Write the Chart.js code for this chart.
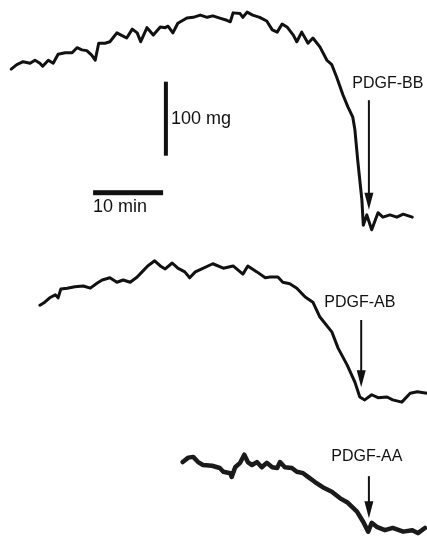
<!DOCTYPE html>
<html>
<head>
<meta charset="utf-8">
<script src="https://cdn.jsdelivr.net/npm/chart.js@4/dist/chart.umd.min.js"></script>
<style>
  html, body { margin: 0; padding: 0; background: #fff; }
  #wrap { width: 427px; height: 542px; }
</style>
</head>
<body>
<div id="wrap"><canvas id="traceChart" width="427" height="542"></canvas></div>
<script>
// Isometric tension traces, time in min, tension in mg (traces stacked with offsets)
const bbTime = [1.6, 2.4, 3.3, 4.3, 5.0, 5.7, 6.1, 6.9, 7.6, 8.3, 9.3, 10.3, 11.0, 11.7, 12.4, 13.1, 13.6, 14.1, 15.0, 15.7,
  16.7, 17.3, 18.1, 18.9, 19.6, 20.1, 21.0, 21.9, 22.9, 23.6, 24.0, 24.7, 25.4, 26.7, 27.6, 28.6, 29.6, 30.4, 31.4, 32.4,
  32.9, 33.3, 34.3, 34.7, 35.3, 36.1, 37.1, 38.1, 38.9, 39.6, 40.3, 41.0, 41.9, 42.4, 43.1, 44.0, 44.7, 45.7, 46.7, 47.4,
  48.1, 49.0, 49.7, 50.4, 50.7, 51.1, 51.7, 51.9, 52.4, 53.1, 54.0, 54.7, 55.7, 56.7, 57.6, 58.9];
const bbTension = [639, 645, 649, 647, 651, 647, 643, 651, 647, 659, 661, 661, 668, 665, 664, 658, 651, 674, 674, 676,
  688, 685, 681, 693, 688, 676, 695, 685, 696, 695, 697, 688, 701, 708, 709, 712, 709, 711, 708, 705,
  703, 715, 714, 709, 716, 712, 709, 704, 692, 689, 700, 696, 685, 676, 689, 674, 681, 669, 651, 645,
  628, 604, 588, 574, 557, 516, 462, 428, 442, 422, 445, 439, 442, 439, 443, 439];

const abTime = [5.7, 6.4, 7.1, 7.9, 8.3, 8.7, 9.6, 10.7, 11.9, 12.9, 13.9, 14.6, 15.7, 16.7, 17.6, 18.6, 19.6, 20.3, 21.1, 22.1,
  22.9, 23.6, 24.6, 25.4, 26.4, 27.1, 27.9, 28.6, 30.4, 31.9, 33.3, 34.7, 35.4, 36.7, 37.9, 38.6, 39.7, 40.4, 41.4, 42.4,
  43.6, 44.7, 45.7, 47.4, 48.3, 49.6, 50.7, 51.4, 52.1, 53.1, 54.0, 55.3, 56.1, 57.4, 58.6, 59.6, 61.0];
const abTension = [320, 324, 330, 334, 330, 342, 343, 345, 346, 343, 350, 354, 357, 351, 354, 351, 358, 365, 373, 380,
  373, 369, 377, 370, 365, 357, 365, 368, 376, 370, 373, 362, 373, 365, 357, 358, 358, 351, 349, 343,
  331, 324, 304, 284, 262, 239, 216, 196, 192, 199, 195, 196, 192, 189, 201, 203, 201];

const aaTime = [26.1, 26.9, 27.6, 28.3, 29.0, 30.3, 31.4, 31.9, 32.9, 33.1, 33.6, 34.3, 34.9, 35.4, 36.0, 36.7, 37.4, 38.1, 38.9, 39.6,
  40.0, 40.7, 41.7, 42.4, 43.3, 44.0, 45.0, 46.1, 47.4, 48.6, 49.7, 51.0, 51.9, 52.6, 53.1, 53.9, 55.0, 56.1, 57.6, 58.9,
  59.7, 60.7];
const aaTension = [108, 114, 115, 108, 104, 103, 100, 95, 93, 88, 101, 107, 118, 108, 104, 108, 101, 107, 101, 100,
  108, 101, 100, 95, 93, 88, 81, 74, 68, 59, 53, 41, 27, 14, 26, 20, 16, 19, 14, 16,
  12, 19];

// Agonist additions: label, time, arrow start / tip tension, label position
const agonists = ['PDGF-BB', 'PDGF-AB', 'PDGF-AA'];
const agonistTime = [52.7, 51.6, 52.7];
const arrowFrom = [597, 300, 89];
const arrowTo = [449, 209, 32];
const labelTime = [55.4, 51.4, 52.4];
const labelTension = [620, 324, 116];

// Calibration bars
const calTension = [522, 622];   // 100 mg
const calTensionTime = 23.7;
const calTime = [13.3, 23.3];    // 10 min
const calTimeTension = 472;

function pts(xs, ys) {
  return xs.map((x, i) => ({x: x, y: ys[i]}));
}

const overlay = {
  id: 'overlay',
  afterDatasetsDraw(chart) {
    const c = chart.ctx;
    const sx = chart.scales.x, sy = chart.scales.y;
    c.save();
    c.fillStyle = '#111';
    c.strokeStyle = '#111';

    // arrows + labels
    c.font = '16px "Liberation Sans", Arial, sans-serif';
    c.textAlign = 'center';
    c.textBaseline = 'middle';
    agonists.forEach((name, i) => {
      const px = sx.getPixelForValue(agonistTime[i]);
      const y0 = sy.getPixelForValue(arrowFrom[i]);
      const y1 = sy.getPixelForValue(arrowTo[i]);
      c.lineWidth = 2;
      c.beginPath();
      c.moveTo(px, y0);
      c.lineTo(px, y1 - 12);
      c.stroke();
      c.beginPath();
      c.moveTo(px - 4.5, y1 - 17);
      c.lineTo(px + 4.5, y1 - 17);
      c.lineTo(px, y1);
      c.closePath();
      c.fill();
      c.fillText(name, sx.getPixelForValue(labelTime[i]), sy.getPixelForValue(labelTension[i]));
    });

    // 100 mg bar
    const bx = sx.getPixelForValue(calTensionTime);
    const bt = sy.getPixelForValue(calTension[1]);
    const bb = sy.getPixelForValue(calTension[0]);
    c.fillRect(bx - 2, bt, 4, bb - bt);
    c.font = '18px "Liberation Sans", Arial, sans-serif';
    c.textAlign = 'left';
    c.fillText('100 mg', bx + 5, (bt + bb) / 2);

    // 10 min bar
    const hx0 = sx.getPixelForValue(calTime[0]);
    const hx1 = sx.getPixelForValue(calTime[1]);
    const hy = sy.getPixelForValue(calTimeTension);
    c.fillRect(hx0, hy - 2.5, hx1 - hx0, 5);
    c.textBaseline = 'top';
    c.fillText('10 min', hx0, hy + 5);
    c.restore();
  }
};

const ctx = document.getElementById('traceChart').getContext('2d');
const chart = new Chart(ctx, {
  type: 'line',
  data: {
    datasets: [
      { label: 'PDGF-BB', data: pts(bbTime, bbTension), borderColor: '#111', borderWidth: 3 },
      { label: 'PDGF-AB', data: pts(abTime, abTension), borderColor: '#111', borderWidth: 3 },
      { label: 'PDGF-AA', data: pts(aaTime, aaTension), borderColor: '#1a1a1a', borderWidth: 4.5 }
    ]
  },
  options: {
    responsive: false,
    animation: false,
    layout: { padding: 0 },
    elements: {
      point: { radius: 0 },
      line: { tension: 0, borderJoinStyle: 'round', borderCapStyle: 'round' }
    },
    plugins: {
      legend: { display: false },
      tooltip: { enabled: false }
    },
    scales: {
      x: { type: 'linear', min: 0, max: 61, display: false },
      y: { type: 'linear', min: 0, max: 732.4, display: false }
    }
  },
  plugins: [overlay]
});
</script>
</body>
</html>
